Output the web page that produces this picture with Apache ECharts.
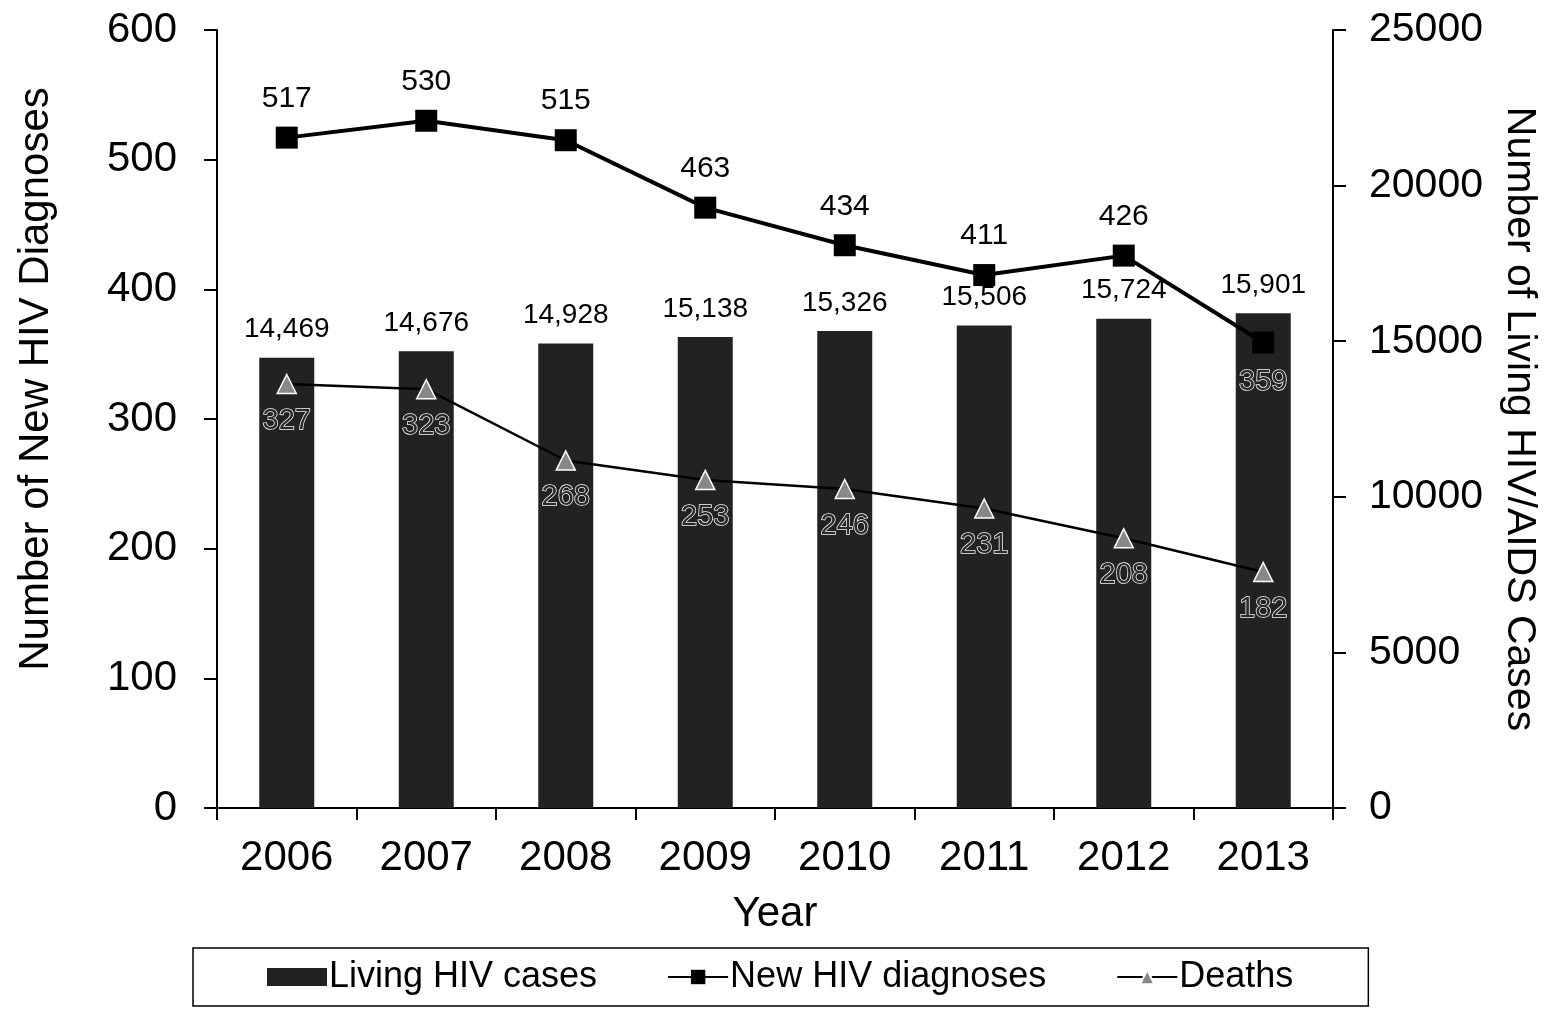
<!DOCTYPE html>
<html><head><meta charset="utf-8">
<script src="https://cdn.jsdelivr.net/npm/echarts@6/dist/echarts.min.js"></script>
<style>html,body{margin:0;padding:0;background:#fff}#c{width:1548px;height:1010px}</style>
</head><body><div id="c"></div>
<script>
const years = ['2006','2007','2008','2009','2010','2011','2012','2013'];
const livingCases = [14469,14676,14928,15138,15326,15506,15724,15901];
const newDiagnoses = [517,530,515,463,434,411,426,359];
const deaths = [327,323,268,253,246,231,208,182];
const leftTicks = [0,100,200,300,400,500,600];
const rightTicks = [0,5000,10000,15000,20000,25000];

const F = 'Liberation Sans, Arial, sans-serif';
const chart = echarts.init(document.getElementById('c'));
const insideLabel = {color:'#2a2a2a', textBorderColor:'#f4f4f4', textBorderWidth:1.5, fontSize:29, fontFamily:F};
chart.setOption({
  animation:false,
  grid:{left:217, right:211, top:30, bottom:202},
  legend:{
    left:193, top:948,
    borderColor:'#000', borderWidth:1.5, padding:[11,75,11,74],
    itemGap:70, itemWidth:60, itemHeight:18,
    textStyle:{fontSize:36, fontFamily:F, color:'#000', padding:[0,0,0,-3]},
    data:[{name:'Living HIV cases', icon:'rect'},'New HIV diagnoses','Deaths']
  },
  xAxis:{
    type:'category', data:years, name:'Year', nameLocation:'middle', nameGap:85,
    nameTextStyle:{fontSize:42, fontFamily:F, color:'#000'},
    axisLine:{lineStyle:{color:'#000', width:2}},
    axisTick:{show:true, length:12, lineStyle:{color:'#000', width:2}},
    axisLabel:{fontSize:42, fontFamily:F, color:'#000', margin:29}
  },
  yAxis:[
    {type:'value', min:leftTicks[0], max:leftTicks[leftTicks.length-1], interval:100,
     name:'Number of New HIV Diagnoses', nameLocation:'middle', nameGap:160,
     nameTextStyle:{fontSize:42, fontFamily:F, color:'#000', padding:[0,0,0,80]},
     axisLine:{show:true, lineStyle:{color:'#000', width:2}},
     axisTick:{show:true, length:13, lineStyle:{color:'#000', width:2}},
     axisLabel:{fontSize:42, fontFamily:F, color:'#000', margin:40},
     splitLine:{show:false}},
    {type:'value', position:'right', min:rightTicks[0], max:rightTicks[rightTicks.length-1], interval:5000,
     name:'Number of Living HIV/AIDS Cases', nameLocation:'middle', nameGap:166, nameRotate:-90,
     nameTextStyle:{fontSize:41, fontFamily:F, color:'#000'},
     axisLine:{show:true, lineStyle:{color:'#000', width:2}},
     axisTick:{show:true, length:13, lineStyle:{color:'#000', width:2}},
     axisLabel:{fontSize:41, fontFamily:F, color:'#000', margin:36, formatter:v=>String(v)},
     splitLine:{show:false}}
  ],
  series:[
    {name:'Living HIV cases', type:'bar', yAxisIndex:1, data:livingCases, barWidth:55,
     itemStyle:{color:'#222'},
     label:{show:true, position:'top', distance:14, fontSize:28, fontFamily:F, color:'#000',
       formatter:p=>p.value.toLocaleString('en-US')}},
    {name:'New HIV diagnoses', type:'line', yAxisIndex:0, z:5,
     data:newDiagnoses.map((v,i)=> i===newDiagnoses.length-1 ? {value:v, label:Object.assign({position:'bottom', distance:14}, insideLabel)} : v),
     symbol:'rect', symbolSize:22, lineStyle:{color:'#000', width:4}, itemStyle:{color:'#000'},
     label:{show:true, position:'top', distance:13, fontSize:30, fontFamily:F, color:'#000'}},
    {name:'Deaths', type:'line', yAxisIndex:0, z:4, data:deaths,
     symbol:'triangle', symbolSize:19, lineStyle:{color:'#000', width:2.5},
     itemStyle:{color:'#888', borderColor:'#fff', borderWidth:1.5},
     label:Object.assign({show:true, position:'bottom', distance:12}, insideLabel)}
  ]
});
</script></body></html>
